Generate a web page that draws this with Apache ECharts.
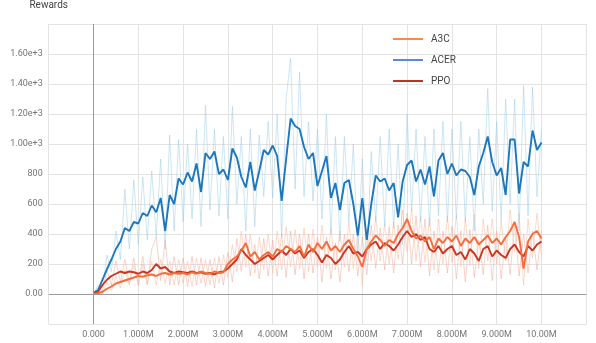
<!DOCTYPE html>
<html>
<head>
<meta charset="utf-8">
<script src="https://cdn.jsdelivr.net/npm/echarts@6/dist/echarts.min.js"></script>
<style>
  html, body { margin: 0; padding: 0; background: #fff; }
  #chart { width: 596px; height: 343px; }
</style>
</head>
<body>
<div id="chart"></div>
<script>
// training steps, in millions
const steps = [
  0, 0.1, 0.2, 0.3, 0.4, 0.5, 0.6, 0.7, 0.8, 0.9,
  1.0, 1.1, 1.2, 1.3, 1.4, 1.5, 1.6, 1.7, 1.8, 1.9,
  2.0, 2.1, 2.2, 2.3, 2.4, 2.5, 2.6, 2.7, 2.8, 2.9,
  3.0, 3.1, 3.2, 3.3, 3.4, 3.5, 3.6, 3.7, 3.8, 3.9,
  4.0, 4.1, 4.2, 4.3, 4.4, 4.5, 4.6, 4.7, 4.8, 4.9,
  5.0, 5.1, 5.2, 5.3, 5.4, 5.5, 5.6, 5.7, 5.8, 5.9,
  6.0, 6.1, 6.2, 6.3, 6.4, 6.5, 6.6, 6.7, 6.8, 6.9,
  7.0, 7.1, 7.2, 7.3, 7.4, 7.5, 7.6, 7.7, 7.8, 7.9,
  8.0, 8.1, 8.2, 8.3, 8.4, 8.5, 8.6, 8.7, 8.8, 8.9,
  9.0, 9.1, 9.2, 9.3, 9.4, 9.5, 9.6, 9.7, 9.8, 9.9,
  10.0
];

// smoothed rewards
const acer = [
  10, 25, 95, 165, 230, 300, 350, 440, 420, 480,
  470, 540, 520, 590, 545, 640, 420, 660, 600, 770,
  730, 810, 750, 870, 680, 940, 900, 950, 800, 830,
  760, 970, 910, 780, 710, 880, 690, 820, 960, 930,
  990, 920, 620, 900, 1170, 1120, 1100, 980, 900, 940,
  720, 820, 920, 640, 740, 560, 740, 760, 600, 390,
  640, 360, 600, 790, 750, 770, 690, 740, 510, 750,
  860, 890, 750, 830, 730, 850, 650, 890, 940, 800,
  870, 790, 830, 820, 780, 660, 850, 940, 1050, 880,
  790, 840, 660, 1030, 1030, 670, 880, 850, 1090, 960,
  1010
];
const a3c = [
  0, 5, 15, 35, 50, 70, 80, 90, 100, 110,
  120, 115, 125, 130, 120, 135, 140, 130, 140, 135,
  140, 130, 145, 135, 150, 140, 135, 150, 140, 145,
  200, 230, 250, 290, 340, 250, 280, 230, 260, 280,
  250, 300, 280, 320, 300, 280, 320, 250, 330, 280,
  340, 300, 350, 290, 320, 280, 330, 360, 300, 250,
  180, 300, 350, 390, 360, 320, 360, 340, 400, 440,
  500, 420, 370, 390, 350, 380, 300, 370, 340, 380,
  350, 390, 320, 370, 340, 380, 330, 360, 390, 340,
  370, 330, 380, 420, 480, 380, 170, 350, 400, 420,
  370
];
const ppo = [
  5, 15, 60, 95, 120, 135, 150, 140, 150, 145,
  135, 150, 140, 160, 200, 170, 180, 150, 140, 150,
  145, 140, 150, 140, 145, 135, 140, 130, 145, 150,
  170, 200, 230, 300, 260, 230, 200, 220, 240, 260,
  230, 260, 290, 260, 300, 270, 290, 240, 280, 300,
  260, 210, 260, 240, 200, 230, 280, 320, 270, 280,
  250, 300, 330, 350, 300, 340, 320, 290, 330, 380,
  420, 380, 400, 360, 380, 300, 280, 320, 270, 300,
  320, 260, 280, 230, 300, 270, 220, 300, 320, 250,
  290, 260, 240, 300, 330, 280, 250, 320, 290, 330,
  350
];

// raw (unsmoothed) rewards, drawn faint behind
const acerRaw = [
  0, 60, 40, 260, 150, 420, 230, 700, 300, 760,
  330, 780, 360, 820, 380, 900, 300, 1060, 420, 1030,
  480, 1000, 500, 1100, 450, 1260, 560, 1100, 520, 1050,
  500, 1250, 600, 1050, 420, 1100, 450, 1060, 650, 1150,
  640, 1200, 380, 1300, 1570, 700, 1480, 650, 1150, 620,
  1100, 500, 1200, 400, 1050, 350, 1050, 480, 1000, 250,
  900, 220, 950, 480, 1050, 450, 1100, 440, 1000, 330,
  1200, 550, 1100, 480, 1050, 450, 1100, 520, 1150, 480,
  1100, 500, 1150, 480, 1050, 420, 1100, 600, 1370, 550,
  1150, 480, 1300, 600, 1300, 420, 1390, 520, 1380, 650,
  1100
];
const a3cRaw = [
  0, 20, 0, 80, 20, 120, 40, 160, 60, 190,
  60, 200, 70, 220, 60, 230, 70, 220, 60, 230,
  70, 220, 50, 240, 70, 230, 60, 240, 70, 260,
  110, 330, 150, 420, 180, 400, 140, 380, 160, 400,
  140, 420, 160, 450, 180, 430, 170, 440, 150, 430,
  180, 460, 170, 440, 160, 420, 180, 480, 170, 400,
  60, 430, 220, 520, 220, 470, 200, 480, 230, 560,
  280, 570, 220, 520, 210, 510, 160, 500, 200, 520,
  210, 530, 180, 510, 190, 530, 170, 500, 220, 500,
  200, 480, 220, 560, 280, 540, 60, 500, 240, 540,
  250
];
const ppoRaw = [
  0, 40, 20, 160, 60, 220, 80, 230, 70, 240,
  60, 250, 60, 300, 380, 90, 360, 60, 250, 60,
  240, 50, 250, 60, 240, 50, 230, 40, 250, 60,
  280, 80, 370, 150, 400, 120, 330, 100, 370, 120,
  360, 120, 400, 110, 420, 130, 400, 100, 400, 140,
  380, 80, 380, 100, 340, 80, 400, 150, 400, 120,
  380, 130, 460, 170, 440, 160, 450, 140, 460, 200,
  540, 200, 520, 180, 500, 120, 420, 140, 420, 140,
  450, 100, 420, 80, 430, 110, 360, 130, 460, 90,
  420, 100, 380, 130, 470, 120, 400, 140, 420, 160,
  420
];

const pair = (ys) => steps.map((s, i) => [s, ys[i]]);

function yLabel(v) {
  if (v < 0 || v > 1600) return '';
  if (v === 0) return '0.00';
  if (v >= 1000) return (v / 1000).toFixed(2) + 'e+3';
  return String(v);
}
function xLabel(v) {
  if (v < 0 || v > 10) return '';
  if (v === 0) return '0.000';
  if (v === 10) return '10.00M';
  return v.toFixed(3) + 'M';
}

const chart = echarts.init(document.getElementById('chart'));

const rawLine = (name, data, color) => ({
  name: name, type: 'line', data: pair(data), showSymbol: false, silent: true,
  lineStyle: { color: color, width: 1, opacity: 0.5 }, z: 1
});
const smoothLine = (name, data, color) => ({
  name: name, type: 'line', data: pair(data), showSymbol: false,
  itemStyle: { color: color },
  lineStyle: { color: color, width: 1.9 }, z: 3
});

let option = {
  animation: false,
  grid: { left: 48.7, right: 9.7, top: 21, bottom: 19 },
  legend: {
    orient: 'vertical',
    left: 393,
    top: 33,
    padding: 0,
    itemWidth: 30,
    itemHeight: 2,
    itemGap: 9,
    icon: 'rect',
    textStyle: { color: '#444', fontSize: 10, fontFamily: 'Roboto', lineHeight: 12, padding: [0, 0, 0, 3] },
    data: [
      { name: 'A3C', itemStyle: { color: '#f58a4b' } },
      { name: 'ACER', itemStyle: { color: '#5b8bd0' } },
      { name: 'PPO', itemStyle: { color: '#c0302a' } }
    ]
  },
  xAxis: {
    type: 'value',
    min: -1, max: 11, interval: 1,
    axisLine: { show: false, onZero: false },
    axisTick: { show: false },
    axisLabel: { formatter: xLabel, color: '#757575', fontSize: 9, fontFamily: 'Roboto', margin: 6 },
    splitLine: { lineStyle: { color: '#e3e3e3' } }
  },
  yAxis: {
    type: 'value',
    min: -200, max: 1800, interval: 200,
    name: 'Rewards',
    nameLocation: 'end',
    nameGap: 19,
    nameTextStyle: { color: '#444', fontSize: 10, fontFamily: 'Roboto', verticalAlign: 'middle' },
    axisLine: { show: false, onZero: false },
    axisTick: { show: false },
    axisLabel: { formatter: yLabel, color: '#757575', fontSize: 9, fontFamily: 'Roboto', margin: 6 },
    splitLine: { lineStyle: { color: '#e3e3e3' } }
  },
  series: [
    Object.assign(rawLine('PPO raw', ppoRaw, '#f2a899'), {
      markLine: {
        silent: true, symbol: 'none', label: { show: false },
        lineStyle: { color: '#9a9a9a', type: 'solid', width: 1, opacity: 1 },
        data: [{ xAxis: 0 }, { yAxis: 0 }]
      }
    }),
    rawLine('A3C raw', a3cRaw, '#fbb897'),
    rawLine('ACER raw', acerRaw, '#9ccbe8'),
    smoothLine('ACER', acer, '#1c77bd'),
    smoothLine('PPO', ppo, '#c9351f'),
    smoothLine('A3C', a3c, '#f86c3a')
  ]
};

chart.setOption(option);
</script>
</body>
</html>
